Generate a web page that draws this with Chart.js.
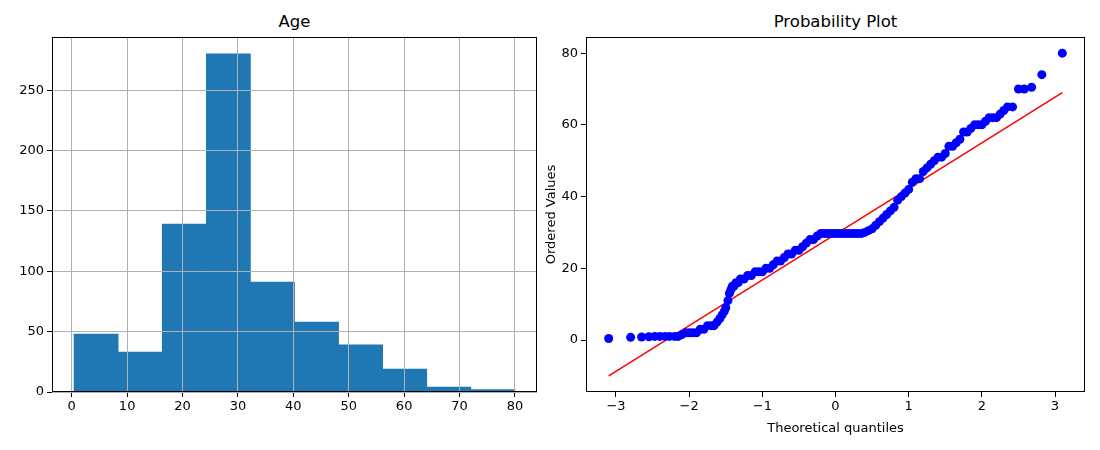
<!DOCTYPE html>
<html><head><meta charset="utf-8">
<script src="https://cdn.jsdelivr.net/npm/chart.js@4.4.0/dist/chart.umd.min.js"></script>
<style>
body{margin:0;width:1100px;height:450px;background:#fff;position:relative;font-family:"DejaVu Sans",sans-serif;}
.t{position:absolute;top:12px;font-size:16.5px;color:#000;text-align:center;}
#c1{position:absolute;left:0;top:0;}
#c2{position:absolute;left:540px;top:0;}
</style></head><body>
<div class="t" style="left:52px;width:485px">Age</div>
<div class="t" style="left:586px;width:499px">Probability Plot</div>
<canvas id="c1" width="550" height="450" style="width:550px;height:450px"></canvas>
<canvas id="c2" width="560" height="450" style="width:560px;height:450px"></canvas>
<script>
const binEdges=[0.42,8.378,16.336,24.294,32.252,40.21,48.168,56.126,64.084,72.042,80];
const ageCounts=[48,33,139,280,91,58,39,19,4,2];
const histXTicks=[0,10,20,30,40,50,60,70,80];
const histYTicks=[0,50,100,150,200,250];
const probPoints=[[-3.1,0.42],[-2.8,0.75],[-2.65,0.83],[-2.55,0.92],[-2.47,1],[-2.4,1],[-2.33,1],[-2.27,1],[-2.2,1],[-2.15,1],[-2.1,1.5],[-2.05,2],[-2.0,2],[-1.95,2],[-1.9,2],[-1.85,3],[-1.8,3],[-1.75,4],[-1.7,4],[-1.66,4],[-1.62,5],[-1.58,6],[-1.55,7],[-1.52,8],[-1.5,9],[-1.47,11],[-1.45,13],[-1.43,14],[-1.41,15],[-1.39,15],[-1.36,16],[-1.33,16],[-1.3,17],[-1.25,17],[-1.2,18],[-1.15,18],[-1.1,19],[-1.05,19],[-1.0,19],[-0.95,20],[-0.9,20],[-0.85,21],[-0.8,22],[-0.75,22],[-0.7,23],[-0.65,24],[-0.6,24],[-0.55,25],[-0.5,25],[-0.45,26],[-0.4,27],[-0.35,28],[-0.3,28],[-0.25,29],[-0.2,29.7],[-0.15,29.7],[-0.1,29.7],[-0.05,29.7],[0,29.7],[0.05,29.7],[0.1,29.7],[0.15,29.7],[0.2,29.7],[0.25,29.7],[0.3,29.7],[0.35,29.7],[0.4,30],[0.45,30.5],[0.5,31],[0.55,32],[0.6,33],[0.65,34],[0.7,35],[0.75,36],[0.8,37],[0.85,39],[0.9,40],[0.95,41],[1.0,42],[1.05,44],[1.1,45],[1.15,45],[1.2,47],[1.25,48],[1.3,49],[1.35,50],[1.4,51],[1.45,51],[1.5,52],[1.55,54],[1.6,54],[1.65,55],[1.7,56],[1.75,58],[1.8,58],[1.85,59],[1.9,60],[1.95,60],[2.0,60],[2.05,61],[2.1,62],[2.15,62],[2.2,62],[2.25,63],[2.3,64],[2.35,65],[2.42,65],[2.5,70],[2.58,70],[2.68,70.5],[2.82,74],[3.1,80]];
const fitLine=[[-3.1,-10],[3.1,69]];
const probXTicks=[-3,-2,-1,0,1,2,3];
const probYTicks=[0,20,40,60,80];

const font={family:"DejaVu Sans",size:13};
const frame={id:'frame',afterDatasetsDraw(c,a,o){
  const ctx=c.ctx,ca=c.chartArea;
  if(o.gridOver){c.scales.x.drawGrid(ca);c.scales.y.drawGrid(ca);}
  ctx.save();ctx.strokeStyle='#000';ctx.lineWidth=1;
  ctx.strokeRect(ca.left+0.5,ca.top+0.5,ca.right-ca.left-1,ca.bottom-ca.top-1);ctx.restore();}};
function fixTicks(list){return s=>{s.ticks=list.map(v=>({value:v}));};}

const centers=ageCounts.map((v,i)=>({x:(binEdges[i]+binEdges[i+1])/2,y:v}));
new Chart(document.getElementById('c1'),{type:'bar',
 data:{datasets:[{data:centers,backgroundColor:'#1f77b4',barPercentage:1,categoryPercentage:1,borderWidth:0}]},
 options:{animation:false,responsive:false,events:[],
  layout:{padding:{top:37,right:13,left:0,bottom:0}},
  plugins:{legend:{display:false},tooltip:{enabled:false},frame:{gridOver:true}},
  scales:{
   x:{type:'linear',offset:false,min:-3.56,max:83.98,afterBuildTicks:fixTicks(histXTicks),afterFit:s=>{s.height=58;},
      grid:{offset:false,color:'#b0b0b0',tickColor:'#000',tickLength:5},border:{display:false},
      ticks:{font,color:'#000',maxRotation:0,padding:2}},
   y:{min:0,max:294,afterBuildTicks:fixTicks(histYTicks),afterFit:s=>{s.width=52;},
      grid:{color:'#b0b0b0',tickColor:'#000',tickLength:5},border:{display:false},
      ticks:{font,color:'#000',padding:3}}}},
 plugins:[frame]});

new Chart(document.getElementById('c2'),{type:'scatter',
 data:{datasets:[
  {data:probPoints.map(p=>({x:p[0],y:p[1]})),backgroundColor:'#0000ff',borderWidth:0,pointRadius:4.5},
  {type:'line',data:fitLine.map(p=>({x:p[0],y:p[1]})),borderColor:'#ff0000',borderWidth:1.5,pointRadius:0}]},
 options:{animation:false,responsive:false,events:[],
  layout:{padding:{top:37,right:15,left:0,bottom:0}},
  plugins:{legend:{display:false},tooltip:{enabled:false},frame:{gridOver:false}},
  scales:{
   x:{type:'linear',min:-3.41,max:3.41,afterBuildTicks:fixTicks(probXTicks),afterFit:s=>{s.height=58;},
      grid:{drawOnChartArea:false,tickColor:'#000',tickLength:5},border:{display:false},
      ticks:{font,color:'#000',maxRotation:0,padding:2,callback:v=>String(v).replace('-','\u2212')},
      title:{display:true,text:'Theoretical quantiles',font,color:'#000',padding:{top:0,bottom:14}}},
   y:{min:-14.5,max:84.5,afterBuildTicks:fixTicks(probYTicks),afterFit:s=>{s.width=46;},
      grid:{drawOnChartArea:false,tickColor:'#000',tickLength:5},border:{display:false},
      ticks:{font,color:'#000',padding:3},
      title:{display:true,text:'Ordered Values',font,color:'#000',padding:{bottom:2}}}}},
 plugins:[frame]});
</script></body></html>
